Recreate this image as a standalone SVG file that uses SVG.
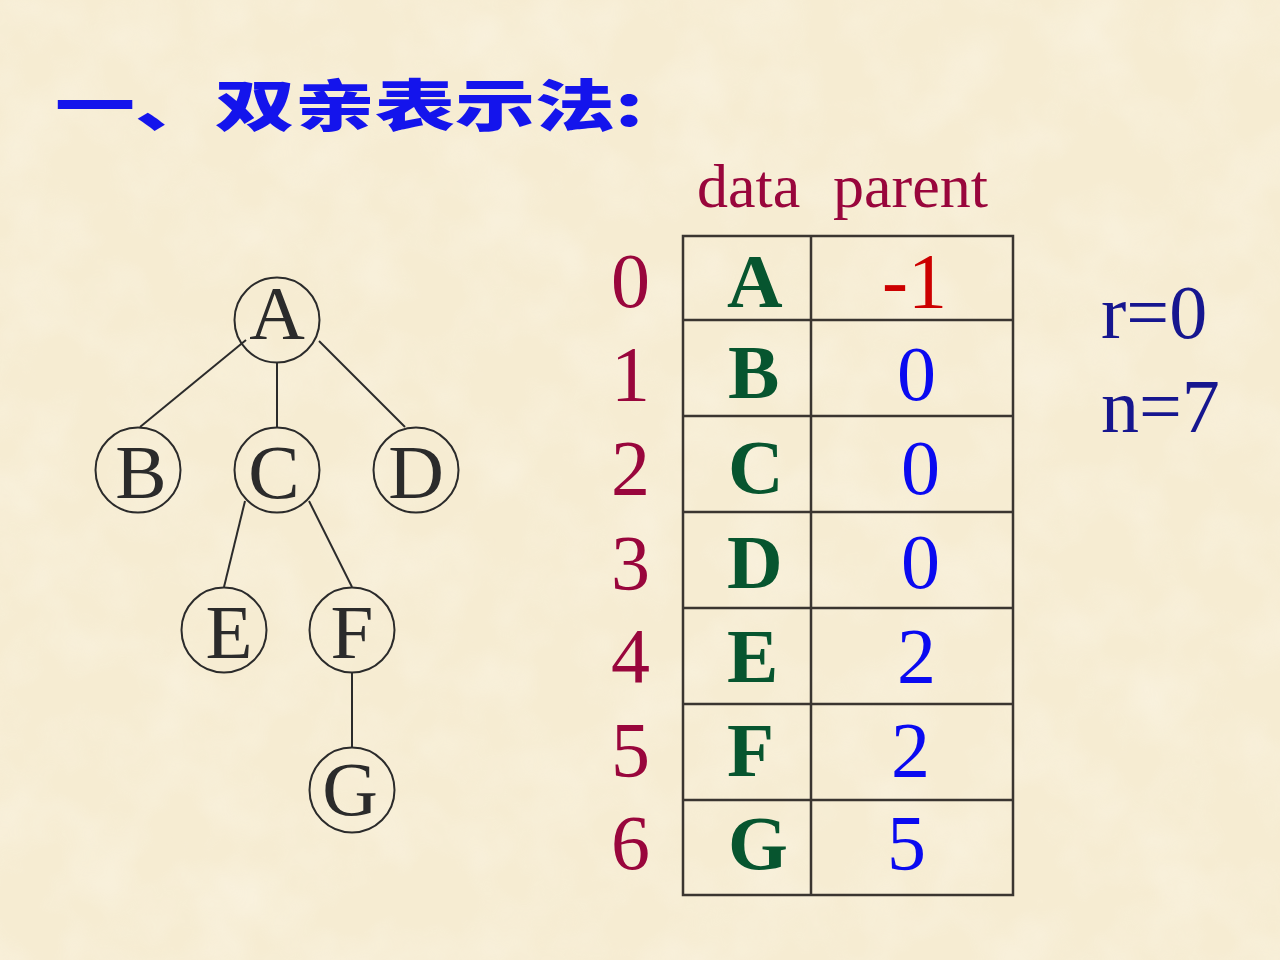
<svg xmlns="http://www.w3.org/2000/svg" width="1280" height="960" viewBox="0 0 1280 960">
  <style>
    .node circle { fill: none; stroke: #2b2b2b; stroke-width: 2; }
    .node text { font-family: "Liberation Serif", "Times New Roman", serif; font-size: 77px; fill: #2b2b2b; text-anchor: middle; }
    .edges line { stroke: #2b2b2b; stroke-width: 2; }
    .grid line { stroke: #3a3530; stroke-width: 2.5; }
    .idx { font-family: "Liberation Serif", serif; font-size: 78px; fill: #99063c; }
    .hdr { font-family: "Liberation Serif", serif; font-size: 62px; fill: #99063c; }
    .dat { font-family: "Liberation Serif", serif; font-size: 77px; font-weight: bold; fill: #07552f; }
    .par { font-family: "Liberation Serif", serif; font-size: 78px; fill: #0a0af0; }
    .neg { fill: #cc0000; }
    .rn { font-family: "Liberation Serif", serif; font-size: 76px; fill: #16168f; }
    .title { font-family: "Noto Sans CJK SC", "Noto Sans", sans-serif; font-size: 80px; font-weight: 900; fill: #1414ec; }
  </style>
  <defs>
    <filter id="paper" x="0" y="0" width="100%" height="100%">
      <feTurbulence type="fractalNoise" baseFrequency="0.015" numOctaves="3" seed="7"/>
      <feColorMatrix type="matrix" values="0 0 0 0 1  0 0 0 0 0.98  0 0 0 0 0.92  1.2 0 0 0 -0.45"/>
    </filter>
  </defs>
  <rect width="1280" height="960" fill="#f6ecd2"/>
  <rect width="1280" height="960" filter="url(#paper)" opacity="0.45"/>

  <g id="title">
    <text class="title" transform="translate(55,126) scale(1,0.7)">一、双亲表示法:</text>
  </g>

  <g id="connectors" class="edges">
    <line x1="246" y1="340" x2="140" y2="427"/>
    <line x1="277" y1="362" x2="277" y2="427"/>
    <line x1="319" y1="341" x2="405" y2="427"/>
    <line x1="245" y1="501" x2="224" y2="587"/>
    <line x1="309" y1="501" x2="352" y2="587"/>
    <line x1="352" y1="672" x2="352" y2="747"/>
  </g>

  <g id="node-A" class="node"><circle cx="277" cy="320" r="42.5"/><text x="277" y="339">A</text></g>
  <g id="node-B" class="node"><circle cx="138" cy="470" r="42.5"/><text x="141" y="498">B</text></g>
  <g id="node-C" class="node"><circle cx="277" cy="470" r="42.5"/><text x="274" y="498">C</text></g>
  <g id="node-D" class="node"><circle cx="416" cy="470" r="42.5"/><text x="416" y="498">D</text></g>
  <g id="node-E" class="node"><circle cx="224" cy="630" r="42.5"/><text x="229" y="658">E</text></g>
  <g id="node-F" class="node"><circle cx="352" cy="630" r="42.5"/><text x="352" y="658">F</text></g>
  <g id="node-G" class="node"><circle cx="352" cy="790" r="42.5"/><text x="350" y="815">G</text></g>

  <g id="table-header">
    <text class="hdr" x="697" y="207">data</text>
    <text class="hdr" x="833" y="207">parent</text>
  </g>

  <g id="table-grid" class="grid">
    <rect x="683" y="236" width="330" height="659" fill="none" stroke="#3a3530" stroke-width="2.5"/>
    <line x1="811" y1="236" x2="811" y2="895"/>
    <line x1="683" y1="320" x2="1013" y2="320"/>
    <line x1="683" y1="416" x2="1013" y2="416"/>
    <line x1="683" y1="512" x2="1013" y2="512"/>
    <line x1="683" y1="608" x2="1013" y2="608"/>
    <line x1="683" y1="704" x2="1013" y2="704"/>
    <line x1="683" y1="800" x2="1013" y2="800"/>
  </g>

  <g id="table-index">
    <text class="idx" x="611" y="307">0</text>
    <text class="idx" x="611" y="400">1</text>
    <text class="idx" x="611" y="494">2</text>
    <text class="idx" x="611" y="589">3</text>
    <text class="idx" x="611" y="682">4</text>
    <text class="idx" x="611" y="776">5</text>
    <text class="idx" x="611" y="869">6</text>
  </g>

  <g id="table-data">
    <text class="dat" x="727" y="307">A</text>
    <text class="dat" x="728" y="398">B</text>
    <text class="dat" x="728" y="493">C</text>
    <text class="dat" x="727" y="588">D</text>
    <text class="dat" x="727" y="682">E</text>
    <text class="dat" x="727" y="776">F</text>
    <text class="dat" x="728" y="869">G</text>
  </g>

  <g id="table-parent">
    <text class="par neg" x="882" y="307">-1</text>
    <text class="par" x="897" y="400">0</text>
    <text class="par" x="901" y="494">0</text>
    <text class="par" x="901" y="588">0</text>
    <text class="par" x="897" y="682">2</text>
    <text class="par" x="891" y="776">2</text>
    <text class="par" x="887" y="869">5</text>
  </g>

  <g id="info">
    <text class="rn" x="1101" y="338">r=0</text>
    <text class="rn" x="1101" y="432">n=7</text>
  </g>
</svg>
